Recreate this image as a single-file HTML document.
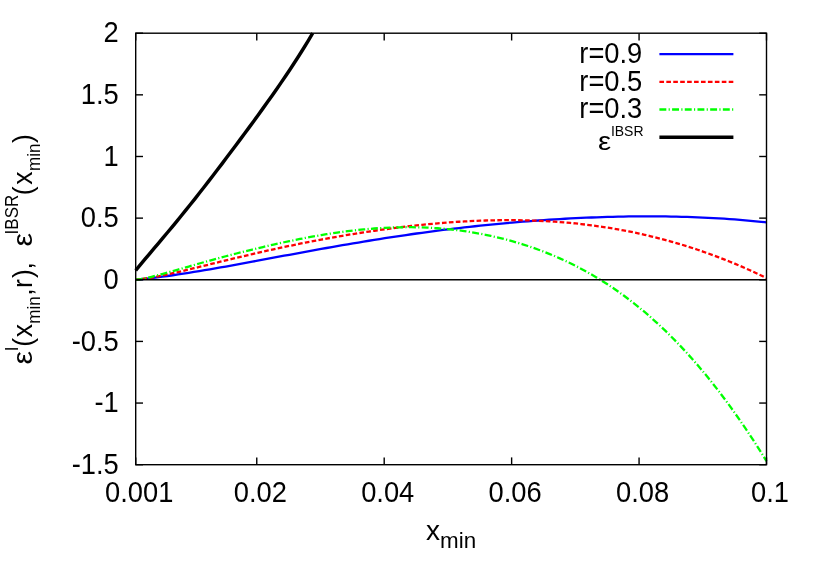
<!DOCTYPE html>
<html><head><meta charset="utf-8"><title>plot</title><style>html,body{margin:0;padding:0;background:#fff;overflow:hidden}</style></head><body>
<svg width="830" height="581" viewBox="0 0 830 581" style="display:block">
<rect width="830" height="581" fill="#fff"/>
<g fill="none" stroke-linejoin="round">
<path d="M135.70,279.78 L141.00,279.25 L146.30,278.67 L151.60,278.06 L156.90,277.40 L162.20,276.71 L167.51,275.99 L172.81,275.24 L178.11,274.46 L183.41,273.66 L188.71,272.83 L194.01,271.98 L199.31,271.11 L204.61,270.22 L209.91,269.31 L215.21,268.39 L220.51,267.46 L225.81,266.51 L231.12,265.56 L236.42,264.59 L241.72,263.62 L247.02,262.65 L252.32,261.66 L257.62,260.68 L262.92,259.69 L268.22,258.70 L273.52,257.72 L278.82,256.73 L284.12,255.74 L289.42,254.76 L294.73,253.78 L300.03,252.80 L305.33,251.83 L310.63,250.86 L315.93,249.90 L321.23,248.95 L326.53,248.00 L331.83,247.06 L337.13,246.13 L342.43,245.21 L347.73,244.30 L353.03,243.40 L358.34,242.51 L363.64,241.62 L368.94,240.76 L374.24,239.90 L379.54,239.05 L384.84,238.22 L390.14,237.40 L395.44,236.60 L400.74,235.80 L406.04,235.03 L411.34,234.26 L416.64,233.51 L421.95,232.78 L427.25,232.05 L432.55,231.35 L437.85,230.66 L443.15,229.98 L448.45,229.32 L453.75,228.68 L459.05,228.05 L464.35,227.43 L469.65,226.84 L474.95,226.25 L480.25,225.68 L485.56,225.13 L490.86,224.60 L496.16,224.07 L501.46,223.57 L506.76,223.08 L512.06,222.60 L517.36,222.15 L522.66,221.70 L527.96,221.28 L533.26,220.87 L538.56,220.48 L543.86,220.10 L549.17,219.74 L554.47,219.40 L559.77,219.07 L565.07,218.76 L570.37,218.47 L575.67,218.19 L580.97,217.94 L586.27,217.70 L591.57,217.48 L596.87,217.28 L602.17,217.09 L607.47,216.93 L612.78,216.78 L618.08,216.66 L623.38,216.55 L628.68,216.47 L633.98,216.40 L639.28,216.35 L644.58,216.33 L649.88,216.33 L655.18,216.35 L660.48,216.39 L665.78,216.45 L671.08,216.53 L676.39,216.64 L681.69,216.78 L686.99,216.93 L692.29,217.11 L697.59,217.32 L702.89,217.54 L708.19,217.80 L713.49,218.08 L718.79,218.39 L724.09,218.72 L729.39,219.08 L734.69,219.47 L740.00,219.89 L745.30,220.33 L750.60,220.81 L755.90,221.31 L761.20,221.85 L766.50,222.41" stroke="#0000ff" stroke-width="2.3"/>
<path d="M135.70,279.76 L141.00,279.13 L146.30,278.37 L151.60,277.51 L156.90,276.55 L162.20,275.51 L167.51,274.41 L172.81,273.24 L178.11,272.04 L183.41,270.80 L188.71,269.53 L194.01,268.24 L199.31,266.95 L204.61,265.64 L209.91,264.33 L215.21,263.03 L220.51,261.73 L225.81,260.43 L231.12,259.15 L236.42,257.87 L241.72,256.61 L247.02,255.36 L252.32,254.12 L257.62,252.89 L262.92,251.68 L268.22,250.49 L273.52,249.31 L278.82,248.15 L284.12,247.01 L289.42,245.89 L294.73,244.79 L300.03,243.71 L305.33,242.64 L310.63,241.60 L315.93,240.58 L321.23,239.58 L326.53,238.60 L331.83,237.64 L337.13,236.70 L342.43,235.78 L347.73,234.89 L353.03,234.02 L358.34,233.17 L363.64,232.34 L368.94,231.53 L374.24,230.75 L379.54,229.99 L384.84,229.26 L390.14,228.55 L395.44,227.87 L400.74,227.21 L406.04,226.57 L411.34,225.96 L416.64,225.38 L421.95,224.83 L427.25,224.30 L432.55,223.80 L437.85,223.34 L443.15,222.90 L448.45,222.49 L453.75,222.11 L459.05,221.76 L464.35,221.44 L469.65,221.16 L474.95,220.91 L480.25,220.69 L485.56,220.51 L490.86,220.37 L496.16,220.26 L501.46,220.18 L506.76,220.15 L512.06,220.15 L517.36,220.20 L522.66,220.28 L527.96,220.41 L533.26,220.57 L538.56,220.78 L543.86,221.03 L549.17,221.32 L554.47,221.66 L559.77,222.05 L565.07,222.48 L570.37,222.95 L575.67,223.47 L580.97,224.04 L586.27,224.66 L591.57,225.33 L596.87,226.04 L602.17,226.81 L607.47,227.63 L612.78,228.49 L618.08,229.41 L623.38,230.38 L628.68,231.41 L633.98,232.48 L639.28,233.61 L644.58,234.80 L649.88,236.04 L655.18,237.33 L660.48,238.68 L665.78,240.09 L671.08,241.55 L676.39,243.07 L681.69,244.65 L686.99,246.29 L692.29,247.98 L697.59,249.73 L702.89,251.55 L708.19,253.42 L713.49,255.35 L718.79,257.34 L724.09,259.39 L729.39,261.50 L734.69,263.68 L740.00,265.91 L745.30,268.21 L750.60,270.57 L755.90,272.99 L761.20,275.48 L766.50,278.03" stroke="#ff0000" stroke-width="2.3" stroke-dasharray="4.62 2.31"/>
<path d="M135.70,279.75 L141.00,279.04 L146.30,278.01 L151.60,276.78 L156.90,275.43 L162.20,274.03 L167.51,272.57 L172.81,271.09 L178.11,269.58 L183.41,268.06 L188.71,266.54 L194.01,265.02 L199.31,263.51 L204.61,262.02 L209.91,260.55 L215.21,259.09 L220.51,257.66 L225.81,256.25 L231.12,254.86 L236.42,253.50 L241.72,252.15 L247.02,250.83 L252.32,249.53 L257.62,248.26 L262.92,247.01 L268.22,245.78 L273.52,244.58 L278.82,243.40 L284.12,242.25 L289.42,241.13 L294.73,240.05 L300.03,238.99 L305.33,237.96 L310.63,236.97 L315.93,236.02 L321.23,235.11 L326.53,234.24 L331.83,233.41 L337.13,232.62 L342.43,231.88 L347.73,231.19 L353.03,230.55 L358.34,229.96 L363.64,229.42 L368.94,228.94 L374.24,228.52 L379.54,228.15 L384.84,227.84 L390.14,227.59 L395.44,227.40 L400.74,227.28 L406.04,227.22 L411.34,227.22 L416.64,227.30 L421.95,227.44 L427.25,227.64 L432.55,227.92 L437.85,228.27 L443.15,228.69 L448.45,229.19 L453.75,229.76 L459.05,230.40 L464.35,231.12 L469.65,231.91 L474.95,232.79 L480.25,233.74 L485.56,234.77 L490.86,235.87 L496.16,237.07 L501.46,238.34 L506.76,239.70 L512.06,241.14 L517.36,242.68 L522.66,244.30 L527.96,246.01 L533.26,247.82 L538.56,249.72 L543.86,251.72 L549.17,253.82 L554.47,256.03 L559.77,258.34 L565.07,260.75 L570.37,263.28 L575.67,265.92 L580.97,268.68 L586.27,271.55 L591.57,274.55 L596.87,277.67 L602.17,280.93 L607.47,284.31 L612.78,287.83 L618.08,291.49 L623.38,295.29 L628.68,299.24 L633.98,303.34 L639.28,307.58 L644.58,311.99 L649.88,316.55 L655.18,321.27 L660.48,326.15 L665.78,331.20 L671.08,336.41 L676.39,341.80 L681.69,347.36 L686.99,353.09 L692.29,359.00 L697.59,365.08 L702.89,371.35 L708.19,377.80 L713.49,384.43 L718.79,391.24 L724.09,398.25 L729.39,405.44 L734.69,412.81 L740.00,420.38 L745.30,428.14 L750.60,436.08 L755.90,444.23 L761.20,452.56 L766.50,461.09" stroke="#00ff00" stroke-width="2.3" stroke-dasharray="6.92 2.31 1.15 2.31"/>
<path d="M135.70,270.40 L140.24,264.91 L144.78,259.47 L149.31,254.07 L153.85,248.68 L158.39,243.30 L162.93,237.91 L167.47,232.49 L172.01,227.04 L176.54,221.54 L181.08,216.00 L185.62,210.41 L190.16,204.76 L194.70,199.05 L199.24,193.29 L203.77,187.48 L208.31,181.63 L212.85,175.74 L217.39,169.80 L221.93,163.84 L226.47,157.83 L231.00,151.80 L235.54,145.74 L240.08,139.64 L244.62,133.51 L249.16,127.35 L253.70,121.15 L258.23,114.91 L262.77,108.63 L267.31,102.29 L271.85,95.89 L276.39,89.42 L280.93,82.86 L285.46,76.21 L290.00,69.44 L294.54,62.53 L299.08,55.48 L303.62,48.25 L308.16,40.84 L312.69,33.20" stroke="#000" stroke-width="3.46"/>
</g>
<g stroke="#000" stroke-width="1.4" fill="none">
<line x1="135.70" y1="279.77" x2="766.50" y2="279.77"/>
<rect x="135.70" y="33.20" width="630.80" height="431.50"/>
<line x1="135.70" y1="33.20" x2="143.00" y2="33.20"/>
<line x1="766.50" y1="33.20" x2="759.20" y2="33.20"/>
<line x1="135.70" y1="94.84" x2="143.00" y2="94.84"/>
<line x1="766.50" y1="94.84" x2="759.20" y2="94.84"/>
<line x1="135.70" y1="156.49" x2="143.00" y2="156.49"/>
<line x1="766.50" y1="156.49" x2="759.20" y2="156.49"/>
<line x1="135.70" y1="218.13" x2="143.00" y2="218.13"/>
<line x1="766.50" y1="218.13" x2="759.20" y2="218.13"/>
<line x1="135.70" y1="279.77" x2="143.00" y2="279.77"/>
<line x1="766.50" y1="279.77" x2="759.20" y2="279.77"/>
<line x1="135.70" y1="341.41" x2="143.00" y2="341.41"/>
<line x1="766.50" y1="341.41" x2="759.20" y2="341.41"/>
<line x1="135.70" y1="403.06" x2="143.00" y2="403.06"/>
<line x1="766.50" y1="403.06" x2="759.20" y2="403.06"/>
<line x1="135.70" y1="464.70" x2="143.00" y2="464.70"/>
<line x1="766.50" y1="464.70" x2="759.20" y2="464.70"/>
<line x1="135.70" y1="464.70" x2="135.70" y2="457.40"/>
<line x1="135.70" y1="33.20" x2="135.70" y2="40.50"/>
<line x1="256.76" y1="464.70" x2="256.76" y2="457.40"/>
<line x1="256.76" y1="33.20" x2="256.76" y2="40.50"/>
<line x1="384.20" y1="464.70" x2="384.20" y2="457.40"/>
<line x1="384.20" y1="33.20" x2="384.20" y2="40.50"/>
<line x1="511.63" y1="464.70" x2="511.63" y2="457.40"/>
<line x1="511.63" y1="33.20" x2="511.63" y2="40.50"/>
<line x1="639.07" y1="464.70" x2="639.07" y2="457.40"/>
<line x1="639.07" y1="33.20" x2="639.07" y2="40.50"/>
<line x1="766.50" y1="464.70" x2="766.50" y2="457.40"/>
<line x1="766.50" y1="33.20" x2="766.50" y2="40.50"/>
</g>
<g font-family="Liberation Sans, sans-serif" font-size="28" fill="#000" opacity="0.999">
<text transform="translate(118.70,42.30) scale(0.975,1.055)" text-anchor="end">2</text>
<text transform="translate(118.70,103.94) scale(0.975,1.055)" text-anchor="end">1.5</text>
<text transform="translate(118.70,165.59) scale(0.975,1.055)" text-anchor="end">1</text>
<text transform="translate(118.70,227.23) scale(0.975,1.055)" text-anchor="end">0.5</text>
<text transform="translate(118.70,288.87) scale(0.975,1.055)" text-anchor="end">0</text>
<text transform="translate(118.70,350.51) scale(0.975,1.055)" text-anchor="end">-0.5</text>
<text transform="translate(118.70,412.16) scale(0.975,1.055)" text-anchor="end">-1</text>
<text transform="translate(118.70,473.80) scale(0.975,1.055)" text-anchor="end">-1.5</text>
<text transform="translate(139.20,502.00) scale(0.975,1.055)" text-anchor="middle">0.001</text>
<text transform="translate(260.26,502.00) scale(0.975,1.055)" text-anchor="middle">0.02</text>
<text transform="translate(387.70,502.00) scale(0.975,1.055)" text-anchor="middle">0.04</text>
<text transform="translate(515.13,502.00) scale(0.975,1.055)" text-anchor="middle">0.06</text>
<text transform="translate(642.57,502.00) scale(0.975,1.055)" text-anchor="middle">0.08</text>
<text transform="translate(770.00,502.00) scale(0.975,1.055)" text-anchor="middle">0.1</text>
<text transform="translate(642.30,63.00) scale(0.975,1.055)" text-anchor="end">r=0.9</text>
<text transform="translate(642.30,90.60) scale(0.975,1.055)" text-anchor="end">r=0.5</text>
<text transform="translate(642.30,118.30) scale(0.975,1.055)" text-anchor="end">r=0.3</text>
<text transform="translate(597.95,149.6) scale(1.115,1)" font-size="26.5">ε</text>
<text x="610.9" y="135.9" font-size="14">IBSR</text>
<text><tspan x="425.9" y="540.2">x</tspan><tspan x="440" y="548.1" font-size="22.4">min</tspan></text>
<g transform="translate(32,364) rotate(-90)">
<text transform="translate(-0.43,0) scale(1.105,1)" font-size="27.4">ε</text>
<text transform="translate(117.47,0) scale(1.105,1)" font-size="27.4">ε</text>
<text transform="scale(0.950,1)"><tspan x="13.37" y="-14.20" font-size="17.9">I</tspan><tspan x="18.16" y="0.00">(</tspan><tspan x="28.16" y="0.00">x</tspan><tspan x="42.42" y="7.90" font-size="17.9">min</tspan><tspan x="71.89" y="0.00">,</tspan><tspan x="79.89" y="0.00">r</tspan><tspan x="90.42" y="0.00">)</tspan><tspan x="99.58" y="0.00">,</tspan><tspan x="136.42" y="-14.20" font-size="17.9">IBSR</tspan><tspan x="177.74" y="0.00">(</tspan><tspan x="188.68" y="0.00">x</tspan><tspan x="203.26" y="7.90" font-size="17.9">min</tspan><tspan x="232.68" y="0.00">)</tspan></text>
</g>
</g>
<g fill="none">
<line x1="659.4" x2="733.4" y1="54.20" y2="54.20" stroke="#0000ff" stroke-width="2.3"/>
<line x1="659.4" x2="733.4" y1="81.80" y2="81.80" stroke="#ff0000" stroke-width="2.3" stroke-dasharray="4.62 2.31"/>
<line x1="659.4" x2="733.4" y1="109.50" y2="109.50" stroke="#00ff00" stroke-width="2.3" stroke-dasharray="6.92 2.31 1.15 2.31"/>
<line x1="659.4" x2="733.4" y1="137.20" y2="137.20" stroke="#000" stroke-width="3.46"/>
</g>
</svg>
</body></html>
